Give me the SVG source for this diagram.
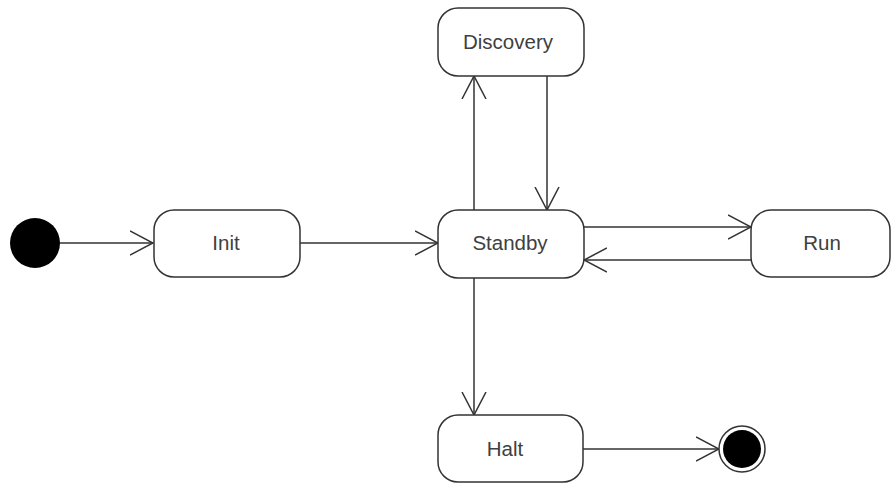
<svg xmlns="http://www.w3.org/2000/svg" width="891" height="483" viewBox="0 0 891 483">
  <style>
    .state rect { fill: #ffffff; stroke: #333333; stroke-width: 1.5; }
    .state text { font-family: "Liberation Sans", Arial, sans-serif; font-size: 20.5px; fill: #404040; text-anchor: middle; }
    .edge { fill: none; stroke: #333333; stroke-width: 1.5; marker-end: url(#open); }
  </style>
  <defs>
    <marker id="open" viewBox="0 0 24 26" refX="23" refY="13" markerWidth="24" markerHeight="26" markerUnits="userSpaceOnUse" orient="auto">
      <path d="M0,1 L23,13 L0,25" fill="none" stroke="#333333" stroke-width="1.5"/>
    </marker>
  </defs>
  <rect width="891" height="483" fill="#ffffff"/>

  <g id="connectors">
    <line class="edge" x1="60" y1="243" x2="153" y2="243"/>
    <line class="edge" x1="300" y1="243" x2="438" y2="243"/>
    <line class="edge" x1="474" y1="210" x2="474" y2="76"/>
    <line class="edge" x1="547" y1="76" x2="547" y2="210"/>
    <line class="edge" x1="584" y1="227" x2="751" y2="227"/>
    <line class="edge" x1="751" y1="260" x2="584" y2="260"/>
    <line class="edge" x1="474" y1="278" x2="474" y2="415"/>
    <line class="edge" x1="583" y1="449" x2="719" y2="449"/>
  </g>

  <g id="initial">
    <circle cx="35" cy="243" r="25" fill="#000000"/>
  </g>
  <g id="init" class="state">
    <rect x="154" y="210" width="146" height="67" rx="20"/>
    <text x="226" y="250">Init</text>
  </g>
  <g id="standby" class="state">
    <rect x="438" y="210" width="146" height="68" rx="20"/>
    <text x="510" y="250">Standby</text>
  </g>
  <g id="discovery" class="state">
    <rect x="438" y="8" width="146" height="68" rx="20"/>
    <text x="508" y="49">Discovery</text>
  </g>
  <g id="run" class="state">
    <rect x="751" y="210" width="139" height="67" rx="20"/>
    <text x="822" y="250">Run</text>
  </g>
  <g id="halt" class="state">
    <rect x="438" y="415" width="145" height="67" rx="20"/>
    <text x="505" y="456">Halt</text>
  </g>
  <g id="final">
    <circle cx="742" cy="449" r="23" fill="#ffffff" stroke="#333333" stroke-width="1.5"/>
    <circle cx="742" cy="449" r="19" fill="#000000"/>
  </g>
</svg>
